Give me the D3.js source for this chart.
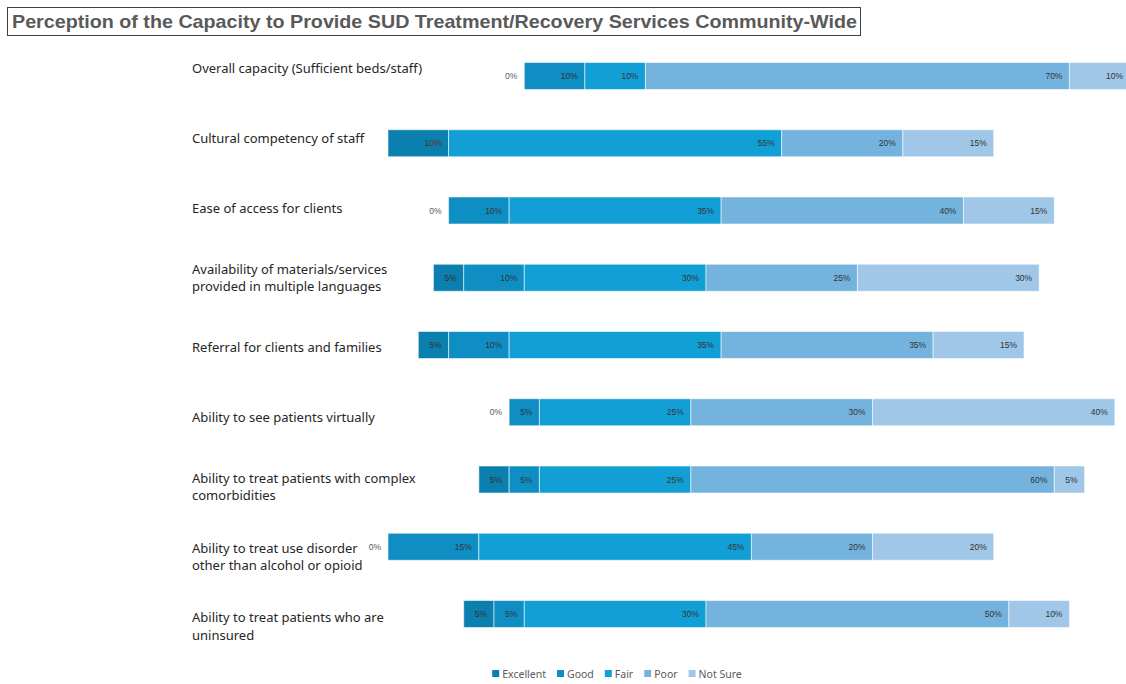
<!DOCTYPE html>
<html>
<head>
<meta charset="utf-8">
<script src="https://cdn.jsdelivr.net/npm/d3@7/dist/d3.min.js"></script>
<style>
  html, body { margin: 0; padding: 0; background: #fff; }
  svg { display: block; }
</style>
</head>
<body>
<svg id="chart" width="1126" height="684"></svg>
<script>
// Survey items (top to bottom)
const categories = [
  "Overall capacity (Sufficient beds/staff)",
  "Cultural competency of staff",
  "Ease of access for clients",
  "Availability of materials/services\nprovided in multiple languages",
  "Referral for clients and families",
  "Ability to see patients virtually",
  "Ability to treat patients with complex\ncomorbidities",
  "Ability to treat use disorder\nother than alcohol or opioid",
  "Ability to treat patients who are\nuninsured"
];

// Response shares, in percent
const excellent = [0, 10, 0, 5, 5, 0, 5, 0, 5];
const good      = [10, 0, 10, 10, 10, 5, 5, 15, 5];
const fair      = [10, 55, 35, 30, 35, 25, 25, 45, 30];
const poor      = [70, 20, 40, 25, 35, 30, 60, 20, 50];
const notSure   = [10, 15, 15, 30, 15, 40, 5, 20, 10];

const seriesNames = ["Excellent", "Good", "Fair", "Poor", "Not Sure"];
const seriesColors = ["#0b7fad", "#0f8ec4", "#129fd6", "#74b3dd", "#a0c7e7"];

const title = "Perception of the Capacity to Provide SUD Treatment/Recovery Services Community-Wide";

const svg = d3.select("#chart");

// Title with a framed box
svg.append("rect")
  .attr("x", 7.5).attr("y", 7.5)
  .attr("width", 853).attr("height", 28)
  .attr("fill", "#fff")
  .attr("stroke", "#404040").attr("stroke-width", 1);
svg.append("text")
  .attr("x", 12).attr("y", 28)
  .attr("font-family", "Liberation Sans, Arial, sans-serif")
  .attr("font-weight", "bold")
  .attr("font-size", 19)
  .attr("fill", "#595959")
  .attr("textLength", 845)
  .attr("lengthAdjust", "spacingAndGlyphs")
  .text(title);

// Build stacked rows; each row is centred on the middle of its "Fair" segment
const seriesValues = [excellent, good, fair, poor, notSure];
const rows = categories.map((c, i) => {
  const vals = seriesValues.map(s => s[i]);
  const offset = -(vals[0] + vals[1] + vals[2] / 2);
  let acc = offset;
  const segs = vals.map((v, k) => {
    const s = { key: seriesNames[k], k, v, x0: acc, x1: acc + v };
    acc += v;
    return s;
  });
  return { category: c, segs };
});

const x = d3.scaleLinear().domain([-37.5, 85]).range([388, 1130]);
const yBar = d3.scalePoint().domain(categories).range([76, 614]);
const yLabel = d3.scalePoint().domain(categories).range([68, 626]);
const barH = 27;

const color = d3.scaleOrdinal().domain(seriesNames).range(seriesColors);

// Category labels
const labelG = svg.append("g")
  .attr("font-family", "Noto Sans, Open Sans, sans-serif")
  .attr("font-size", 13)
  .attr("fill", "#262626");
categories.forEach(c => {
  const lines = c.split("\n");
  const lh = 17.5;
  const t = labelG.append("text")
    .attr("x", 192)
    .attr("y", yLabel(c) - (lines.length - 1) * lh / 2)
    .attr("dominant-baseline", "central");
  lines.forEach((ln, j) => {
    t.append("tspan").attr("x", 192).attr("dy", j === 0 ? 0 : lh).text(ln);
  });
});

// Bars
const rowG = svg.append("g").selectAll("g.row")
  .data(rows).join("g").attr("class", "row")
  .attr("transform", d => `translate(0,${yBar(d.category) - barH / 2})`);

rowG.selectAll("rect")
  .data(d => d.segs.filter(s => s.v > 0))
  .join("rect")
  .attr("x", s => x(s.x0))
  .attr("width", s => x(s.x1) - x(s.x0))
  .attr("y", 0)
  .attr("height", barH)
  .attr("fill", s => color(s.key))
  .attr("stroke", "rgba(255,255,255,0.55)")
  .attr("stroke-width", 1);

// Value labels at the inner end of each segment
rowG.selectAll("text")
  .data(d => d.segs)
  .join("text")
  .attr("x", s => x(s.x1) - 7)
  .attr("y", barH / 2)
  .attr("dominant-baseline", "central")
  .attr("text-anchor", "end")
  .attr("font-family", "Liberation Sans, Arial, sans-serif")
  .attr("font-size", 8.5)
  .attr("fill", s => s.v === 0 ? "#595959" : "#333")
  .text(s => `${s.v}%`);

// Legend, centred below the plot
const legend = svg.append("g")
  .attr("font-family", "Noto Sans, Open Sans, sans-serif")
  .attr("font-size", 10.5)
  .attr("fill", "#595959");
const items = legend.selectAll("g").data(seriesNames).join("g");
items.append("rect").attr("width", 7).attr("height", 7).attr("y", -4)
  .attr("fill", d => color(d));
items.append("text").attr("x", 10).attr("dominant-baseline", "central").text(d => d);
let lx = 0;
const positions = [];
items.each(function () {
  const w = d3.select(this).select("text").node().getComputedTextLength();
  positions.push(lx);
  lx += 10 + w + 11;
});
const totalW = lx - 11;
const startX = 617 - totalW / 2;
items.attr("transform", (d, i) => `translate(${startX + positions[i]},674)`);
</script>
</body>
</html>
